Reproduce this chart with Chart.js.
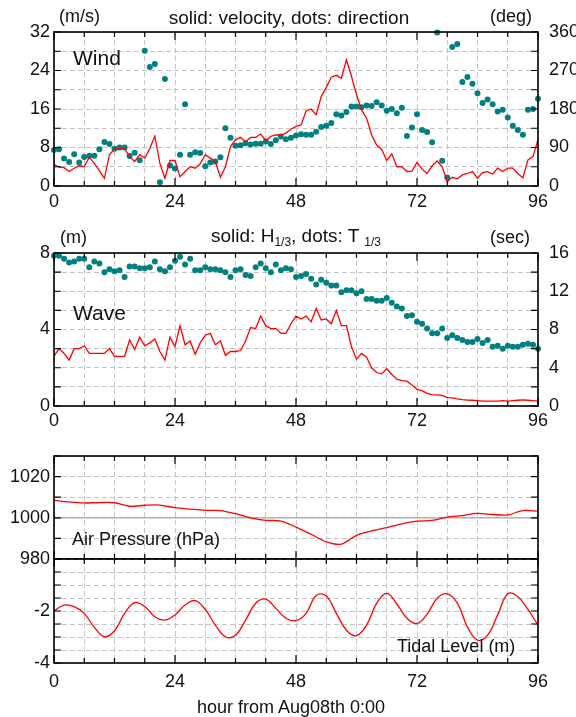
<!DOCTYPE html>
<html>
<head>
<meta charset="utf-8">
<script src="https://cdn.jsdelivr.net/npm/chart.js@4.4.1/dist/chart.umd.min.js"></script>
<style>
  body { margin: 0; background: #fff; }
  #page { position: relative; width: 576px; height: 717px; overflow: hidden;
          font-family: "Liberation Sans", Arial, sans-serif; color: #111; }
  canvas { position: absolute; left: 0; }
  .t { position: absolute; white-space: nowrap; line-height: 1; }
  .c { transform: translateX(-50%); }
  sub { font-size: 12px; vertical-align: -4px; line-height: 0; }
</style>
</head>
<body>
<div id="page">
  <canvas id="wind" width="576" height="215" style="top:0px"></canvas>
  <canvas id="wave" width="576" height="215" style="top:215px"></canvas>
  <canvas id="press" width="576" height="150" style="top:430px"></canvas>
  <canvas id="tide" width="576" height="177" style="top:540px"></canvas>

  <div class="t" style="left:59px;top:7px;font-size:18px">(m/s)</div>
  <div class="t c" style="left:289px;top:8px;font-size:19px">solid: velocity, dots: direction</div>
  <div class="t" style="left:490px;top:7px;font-size:18px">(deg)</div>
  <div class="t" style="left:73px;top:47px;font-size:21px">Wind</div>

  <div class="t" style="left:60px;top:228px;font-size:18px">(m)</div>
  <div class="t c" style="left:296px;top:226px;font-size:19px">solid: H<sub>1/3</sub>, dots: T <sub>1/3</sub></div>
  <div class="t" style="left:490px;top:228px;font-size:18px">(sec)</div>
  <div class="t" style="left:73px;top:302px;font-size:21px">Wave</div>

  <div class="t" style="left:72px;top:530px;font-size:18px">Air Pressure (hPa)</div>
  <div class="t" style="left:397px;top:637px;font-size:18px">Tidal Level (m)</div>
  <div class="t c" style="left:291px;top:698px;font-size:18px">hour from Aug08th 0:00</div>
</div>

<script>
// hours from Aug08th 0:00
const hours = Array.from({ length: 97 }, (_, i) => i);
const pressHours = hours.filter(h => h % 3 === 0);
const tideHours = hours.filter(h => h % 2 === 0);

// wind velocity (m/s), hourly
const windSpeed = [
  4.5, 3.9, 3.8, 3.0, 3.7, 4.2, 4.0, 6.0, 4.7, 3.2,
  1.6, 6.5, 7.7, 7.7, 7.7, 6.1, 5.1, 6.5, 5.8, 7.8,
  10.4, 4.7, 1.6, 5.3, 5.3, 1.9, 3.0, 4.0, 3.7, 4.6,
  6.5, 5.8, 5.1, 1.8, 4.0, 8.2, 9.6, 10.1, 9.2, 10.1,
  10.1, 10.8, 9.4, 10.3, 10.6, 10.6, 11.0, 11.8, 12.4, 12.7,
  15.6, 16.0, 14.8, 18.6, 20.5, 22.6, 23.0, 22.4, 26.2, 22.8,
  19.0, 15.8, 14.1, 10.6, 8.5, 7.6, 5.3, 6.7, 4.0, 4.0,
  3.0, 3.1, 4.9, 3.5, 2.6, 4.2, 5.2, 4.0, 0.9, 1.8,
  1.5, 2.3, 2.6, 3.0, 1.6, 2.8, 3.0, 2.5, 3.7, 3.0,
  3.7, 3.7, 2.6, 1.7, 5.4, 6.1, 9.6
];
// wind direction (deg), hourly
const windDir = [
  84, 86, 64, 56, 74, 55, 68, 71, 71, 86,
  103, 98, 87, 90, 90, 70, 78, 60, 316, 278,
  285, 9, 250, 48, 41, 73, 191, 73, 79, 77,
  46, 55, 57, 67, 135, 113, 94, 95, 100, 97,
  99, 99, 104, 98, 107, 116, 109, 113, 118, 121,
  120, 120, 127, 138, 141, 147, 168, 165, 173, 186,
  186, 184, 188, 187, 196, 188, 176, 180, 170, 183,
  117, 137, 168, 131, 126, 102, 359, 59, 20, 325,
  332, 243, 255, 239, 217, 194, 202, 191, 174, 178,
  160, 141, 131, 120, 178, 180, 204
];
// significant wave height H1/3 (m), hourly
const waveHeight = [
  2.6, 3.0, 2.75, 2.4, 3.0, 3.0, 3.15, 2.75, 2.75, 2.75,
  2.75, 3.0, 2.6, 2.6, 2.6, 3.45, 2.95, 3.6, 3.15, 3.3,
  3.5, 2.85, 2.4, 3.6, 3.1, 4.2, 3.2, 3.4, 2.7, 3.3,
  3.7, 3.8, 3.2, 3.4, 2.65, 2.85, 2.85, 2.9, 3.4, 4.1,
  4.05, 4.7, 4.2, 4.05, 4.05, 3.8, 3.8, 4.3, 4.7, 4.55,
  4.7, 4.4, 5.1, 4.5, 4.55, 4.3, 5.0, 4.2, 4.2, 3.1,
  2.45, 2.75, 2.55, 2.0, 1.75, 1.68, 1.95, 1.65, 1.4, 1.33,
  1.3, 1.1, 0.87, 0.8, 0.66, 0.6, 0.58, 0.56, 0.44, 0.42,
  0.37, 0.33, 0.31, 0.3, 0.28, 0.25, 0.26, 0.25, 0.26, 0.28,
  0.26, 0.28, 0.3, 0.32, 0.3, 0.28, 0.26
];
// significant wave period T1/3 (sec), hourly
const wavePeriod = [
  15.7, 15.7, 15.4, 15.0, 15.1, 15.4, 15.4, 14.5, 15.1, 14.9,
  14.0, 14.3, 14.1, 14.2, 13.5, 14.6, 14.6, 14.4, 14.4, 14.5,
  15.1, 14.3, 14.1, 14.5, 15.2, 15.6, 14.8, 15.4, 14.2, 14.2,
  14.5, 14.3, 14.3, 14.2, 14.0, 13.5, 14.2, 14.3, 13.7, 13.6,
  14.5, 14.9, 14.4, 14.0, 14.8, 14.2, 14.4, 14.3, 13.5, 13.6,
  13.8, 13.3, 12.7, 13.2, 12.9, 12.6, 12.6, 11.9, 12.1, 12.1,
  11.8, 12.0, 11.2, 11.2, 11.0, 11.0, 11.3, 10.8, 10.4, 10.2,
  9.4, 9.5, 8.8, 8.6, 8.1, 7.6, 7.6, 8.1, 7.1, 7.4,
  7.1, 6.9, 6.7, 6.7, 7.0, 6.6, 6.9, 6.2, 6.3, 6.0,
  6.3, 6.2, 6.2, 6.4, 6.5, 6.4, 6.0
];
// air pressure (hPa), every 3 hours
const pressure = [
  1008.5, 1007.7, 1007.2, 1007.4, 1007.3, 1005.6, 1006.1, 1006.2, 1004.9, 1004.2,
  1003.6, 1003.5, 1002.0, 1000.0, 998.8, 998.4, 995.5, 992.0, 988.3, 987.2,
  991.5, 993.6, 995.2, 997.1, 998.4, 998.7, 1000.3, 1001.1, 1002.1, 1001.6,
  1001.4, 1003.5, 1003.2
];
// tidal level (m), every 2 hours
const tide = [
  -2.0, -1.77, -1.83, -2.09, -2.63, -2.99, -2.76, -2.09, -1.68, -1.83,
  -2.22, -2.35, -2.15, -1.77, -1.6, -1.94, -2.54, -2.99, -2.93, -2.35,
  -1.7, -1.54, -1.9, -2.28, -2.37, -2.09, -1.4, -1.42, -2.09, -2.74,
  -2.95, -2.54, -1.7, -1.32, -1.73, -2.28, -2.48, -2.12, -1.51, -1.34,
  -1.7, -2.61, -3.12, -2.93, -2.15, -1.34, -1.45, -1.94, -2.54
];

const RED = '#ff0000';
const TEAL = '#008080';
const GRID = '#c4c4c4';
const FONT = { family: '"Liberation Sans", Arial, sans-serif', size: 18 };

const pts = (xs, ys) => xs.map((x, i) => ({ x: x, y: ys[i] }));

// frame, inward tick marks and optional solid reference line
const framePlugin = {
  id: 'frame',
  beforeDatasetsDraw(chart, args, opts) {
    if (opts.refValue === undefined) return;
    const { ctx, chartArea: a } = chart;
    const y = chart.scales.y.getPixelForValue(opts.refValue);
    ctx.save();
    ctx.strokeStyle = '#a8a8a8';
    ctx.lineWidth = 1.2;
    ctx.beginPath();
    ctx.moveTo(a.left, y);
    ctx.lineTo(a.right, y);
    ctx.stroke();
    ctx.restore();
  },
  afterDraw(chart) {
    const { ctx, chartArea: a } = chart;
    const xs = chart.scales.x, ys = chart.scales.y;
    ctx.save();
    ctx.strokeStyle = '#000';
    ctx.lineWidth = 1.2;
    ctx.beginPath();
    xs.ticks.forEach(t => {
      const px = xs.getPixelForValue(t.value);
      const len = t.value % 24 === 0 ? 8 : 5;
      ctx.moveTo(px, a.top); ctx.lineTo(px, a.top + len);
      ctx.moveTo(px, a.bottom); ctx.lineTo(px, a.bottom - len);
    });
    ys.ticks.forEach(t => {
      const py = ys.getPixelForValue(t.value);
      ctx.moveTo(a.left, py); ctx.lineTo(a.left + 7, py);
      ctx.moveTo(a.right, py); ctx.lineTo(a.right - 7, py);
    });
    ctx.stroke();
    ctx.lineWidth = 1.6;
    ctx.strokeRect(a.left, a.top, a.right - a.left, a.bottom - a.top);
    ctx.restore();
  }
};

function makeChart(id, cfg) {
  const scales = {
    x: {
      type: 'linear', min: 0, max: 96,
      ticks: {
        stepSize: 6, autoSkip: false, maxRotation: 0,
        display: cfg.xLabels, padding: cfg.xPad || 5, color: '#111', font: FONT,
        callback: v => (v % 24 === 0 ? v : '')
      },
      grid: { color: GRID, lineWidth: 1, drawTicks: false, borderDash: [5, 3] },
      border: { display: false, dash: [5, 3] },
      afterFit: s => { s.height = cfg.xHeight; }
    },
    y: {
      type: 'linear', position: 'left', min: cfg.y.min, max: cfg.y.max,
      ticks: {
        stepSize: cfg.y.step, autoSkip: false, padding: 4, color: '#111', font: FONT,
        callback: cfg.y.label
      },
      grid: { color: GRID, lineWidth: 1, drawTicks: false, borderDash: [5, 3] },
      border: { display: false, dash: [5, 3] },
      afterFit: s => { s.width = 54; }
    }
  };
  if (cfg.y2) {
    scales.y2 = {
      type: 'linear', position: 'right', min: cfg.y2.min, max: cfg.y2.max,
      ticks: {
        stepSize: cfg.y2.step, autoSkip: false, padding: 3, color: '#111', font: FONT,
        callback: cfg.y2.label
      },
      grid: { display: false, drawOnChartArea: false },
      border: { display: false },
      afterFit: s => { s.width = 38; }
    };
  }
  return new Chart(document.getElementById(id), {
    type: 'line',
    data: { datasets: cfg.datasets },
    options: {
      responsive: false,
      animation: false,
      events: [],
      layout: { padding: { top: cfg.padTop, left: 0, right: cfg.y2 ? 0 : 38, bottom: 0 } },
      scales: scales,
      plugins: {
        legend: { display: false },
        tooltip: { enabled: false },
        frame: { refValue: cfg.refValue }
      }
    },
    plugins: [framePlugin]
  });
}

const redLine = (data, yAxisID, tension) => ({
  data: data, yAxisID: yAxisID, borderColor: RED, borderWidth: 1.3,
  pointRadius: 0, tension: tension || 0, fill: false
});
const tealDots = (data, yAxisID) => ({
  data: data, yAxisID: yAxisID, showLine: false, clip: false,
  pointRadius: 3, pointBackgroundColor: TEAL, pointBorderWidth: 0, borderColor: TEAL
});

makeChart('wind', {
  padTop: 32, xHeight: 29, xLabels: true, xPad: 5,
  y: { min: 0, max: 32, step: 4, label: v => (v % 8 === 0 ? v : '') },
  y2: { min: 0, max: 360, step: 45, label: v => (v % 90 === 0 ? v : '') },
  datasets: [redLine(pts(hours, windSpeed), 'y'), tealDots(pts(hours, windDir), 'y2')]
});

makeChart('wave', {
  padTop: 38, xHeight: 24, xLabels: true, xPad: 4,
  y: { min: 0, max: 8, step: 1, label: v => (v % 4 === 0 ? v : '') },
  y2: { min: 0, max: 16, step: 2, label: v => (v % 4 === 0 ? v : '') },
  datasets: [redLine(pts(hours, waveHeight), 'y'), tealDots(pts(hours, wavePeriod), 'y2')]
});

makeChart('press', {
  padTop: 26, xHeight: 21, xLabels: false, refValue: 1000,
  y: { min: 980, max: 1030, step: 10, label: v => (v % 20 === 0 ? v : '') },
  datasets: [redLine(pts(pressHours, pressure), 'y', 0.3)]
});

makeChart('tide', {
  padTop: 19, xHeight: 54, xLabels: true, xPad: 8,
  y: { min: -4, max: 0, step: 0.5, label: v => (v === -2 || v === -4 ? v : '') },
  datasets: [redLine(pts(tideHours, tide), 'y', 0.4)]
});
</script>
</body>
</html>
